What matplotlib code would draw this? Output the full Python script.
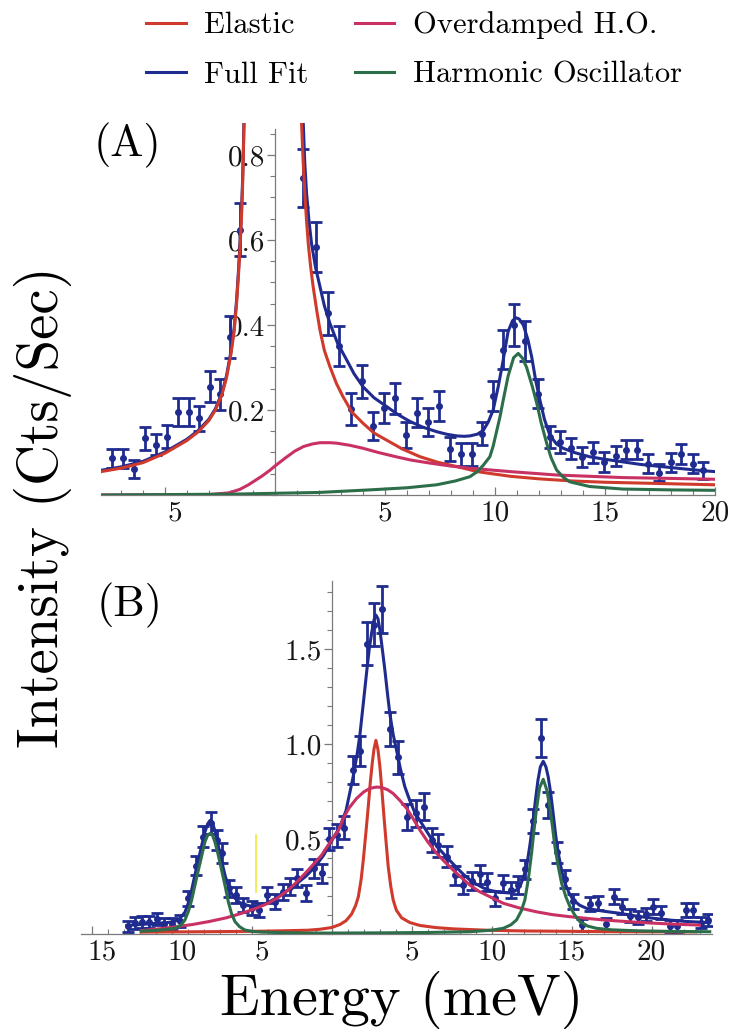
import matplotlib
matplotlib.use('Agg')
import matplotlib.pyplot as plt
import matplotlib.transforms as mtransforms
from matplotlib.lines import Line2D
from matplotlib.ticker import MultipleLocator

plt.rcParams['font.family'] = ['cmr10', 'DejaVu Serif']
plt.rcParams['mathtext.fontset'] = 'cm'
plt.rcParams['axes.formatter.use_mathtext'] = True

# colours
c_el = '#cf3a2c'
c_od = '#c93163'
c_fit = '#1f2b8f'
c_ho = '#2d6e4a'
c_axis = '#7a7a7a'

# ---------------- panel A data ----------------
a_pts_e = [-7.39, -6.89, -6.39, -5.90, -5.42, -4.92, -4.42, -3.91, -3.44, -2.95, -2.50, -2.05, -1.59,
           1.29, 1.89, 2.42, 2.91, 3.44, 3.94, 4.47, 4.95, 5.45, 5.95, 6.44, 6.97, 7.45, 7.95, 8.45,
           8.94, 9.42, 9.92, 10.38, 10.86, 11.36, 11.94, 12.50, 12.95, 13.45, 13.94, 14.47, 14.97,
           15.49, 15.94, 16.44, 16.97, 17.47, 17.98, 18.45, 18.98, 19.47]
a_pts_i = [0.086, 0.086, 0.061, 0.133, 0.118, 0.137, 0.196, 0.196, 0.180, 0.255, 0.237, 0.372, 0.624,
           0.745, 0.584, 0.427, 0.350, 0.202, 0.267, 0.162, 0.205, 0.227, 0.141, 0.194, 0.171, 0.209,
           0.108, 0.096, 0.096, 0.144, 0.232, 0.342, 0.400, 0.362, 0.238, 0.137, 0.125, 0.110, 0.090,
           0.100, 0.078, 0.092, 0.107, 0.107, 0.074, 0.052, 0.077, 0.096, 0.074, 0.058]
a_pts_err = [0.022, 0.022, 0.021, 0.026, 0.025, 0.027, 0.033, 0.033, 0.030, 0.037, 0.036, 0.050, 0.062,
             0.068, 0.059, 0.051, 0.047, 0.037, 0.039, 0.033, 0.035, 0.037, 0.031, 0.034, 0.033, 0.036,
             0.029, 0.027, 0.027, 0.027, 0.035, 0.046, 0.049, 0.047, 0.034, 0.026, 0.026, 0.025, 0.024,
             0.024, 0.023, 0.024, 0.022, 0.022, 0.022, 0.020, 0.022, 0.024, 0.022, 0.020]

a_el_e = [-7.9, -7.0, -6.0, -5.0, -4.0, -3.5, -3.0, -2.7, -2.4, -2.2, -2.0, -1.85, -1.74, -1.65, -1.58,
          -1.52, -1.47, -1.43, -1.40, 0.0, 1.21, 1.28, 1.36, 1.44, 1.52, 1.63, 1.74, 1.90, 2.05, 2.25,
          2.50, 2.80, 3.10, 3.50, 4.00, 4.50, 5.08, 5.80, 6.60, 7.40, 8.26, 9.20, 10.0, 10.7, 12.0, 13.5,
          15.0, 17.5, 20.0]
a_el_i = [0.055, 0.063, 0.076, 0.098, 0.128, 0.148, 0.175, 0.200, 0.237, 0.275, 0.330, 0.385, 0.450,
          0.520, 0.585, 0.650, 0.720, 0.800, 0.880, 4.0, 0.880, 0.790, 0.710, 0.645, 0.590, 0.535, 0.490,
          0.435, 0.388, 0.340, 0.302, 0.262, 0.231, 0.195, 0.169, 0.146, 0.129, 0.108, 0.090, 0.077,
          0.067, 0.055, 0.049, 0.044, 0.038, 0.033, 0.030, 0.027, 0.024]

a_fit_e = [-7.9, -7.0, -6.0, -5.0, -4.0, -3.5, -3.0, -2.7, -2.4, -2.2, -2.0, -1.85, -1.74, -1.65, -1.58,
           -1.52, -1.47, -1.43, -1.40, 0.0, 1.29, 1.36, 1.44, 1.55, 1.67, 1.85, 2.05, 2.25, 2.50, 2.85,
           3.26, 3.60, 4.00, 4.50, 5.08, 5.60, 6.14, 6.70, 7.35, 7.80, 8.26, 8.60, 8.86, 9.20, 9.47, 9.70,
           9.92, 10.15, 10.35, 10.60, 10.80, 10.95, 11.10, 11.29, 11.50, 11.67, 11.85, 12.05, 12.25,
           12.50, 12.80, 13.10, 13.60, 14.30, 15.00, 15.80, 16.60, 17.35, 18.10, 18.86, 19.50, 20.0]
a_fit_i = [0.058, 0.066, 0.079, 0.101, 0.131, 0.151, 0.178, 0.203, 0.241, 0.280, 0.336, 0.392, 0.458,
           0.530, 0.597, 0.663, 0.735, 0.815, 0.890, 4.0, 0.875, 0.780, 0.710, 0.645, 0.590, 0.535, 0.490,
           0.445, 0.404, 0.357, 0.318, 0.285, 0.255, 0.229, 0.208, 0.189, 0.173, 0.160, 0.149, 0.143,
           0.139, 0.138, 0.139, 0.143, 0.152, 0.172, 0.200, 0.255, 0.310, 0.385, 0.410, 0.417, 0.414,
           0.400, 0.365, 0.325, 0.270, 0.222, 0.178, 0.140, 0.120, 0.110, 0.100, 0.090, 0.084, 0.078,
           0.072, 0.068, 0.064, 0.060, 0.057, 0.055]

a_od_e = [-7.9, -3.0, -2.1, -1.6, -1.2, -0.6, -0.23, 0.0, 0.5, 0.9, 1.3, 1.7, 2.05, 2.5, 2.8, 3.4, 4.0,
          4.7, 5.5, 6.2, 7.05, 8.0, 8.86, 9.77, 10.7, 12.8, 15.8, 18.0, 20.0]
a_od_i = [0.0, 0.001, 0.005, 0.013, 0.024, 0.044, 0.058, 0.068, 0.088, 0.103, 0.114, 0.120, 0.123, 0.123,
          0.122, 0.117, 0.110, 0.100, 0.090, 0.082, 0.075, 0.068, 0.063, 0.059, 0.055, 0.047, 0.041,
          0.039, 0.037]

a_ho_e = [-7.9, -2.0, 0.0, 2.0, 4.3, 6.0, 7.35, 8.2, 8.86, 9.2, 9.47, 9.77, 9.92, 10.23, 10.38, 10.6,
          10.85, 11.06, 11.25, 11.44, 11.7, 11.9, 12.1, 12.35, 12.55, 12.8, 13.1, 13.4, 14.3, 15.8, 18.0,
          20.0]
a_ho_i = [0.0, 0.002, 0.004, 0.006, 0.012, 0.017, 0.024, 0.033, 0.043, 0.055, 0.070, 0.090, 0.115, 0.184,
          0.224, 0.280, 0.323, 0.333, 0.322, 0.300, 0.255, 0.216, 0.170, 0.122, 0.088, 0.059, 0.042,
          0.031, 0.020, 0.014, 0.012, 0.011]

# ---------------- panel B data ----------------
b_pts_e = [-12.75, -12.30, -11.85, -11.40, -10.90, -10.45, -9.97, -9.50, -8.96, -8.50, -8.02, -7.56,
           -7.19, -6.84, -6.40, -5.98, -5.52, -5.00, -4.52, -4.02, -3.54, -3.06, -2.60, -2.15, -1.60,
           -1.10, -0.63, -0.15, 0.31, 0.80, 1.31, 1.79, 2.19, 2.64, 3.12, 3.64, 4.16, 4.73, 5.25, 5.77,
           6.25, 6.66, 7.19, 7.70, 8.23, 8.75, 9.27, 9.69, 10.20, 10.69, 11.19, 11.67, 12.10, 12.56,
           13.12, 13.52, 14.12, 14.58, 15.12, 15.64, 16.16, 16.66, 17.14, 17.67, 18.15, 18.66, 19.13,
           19.63, 20.12, 20.62, 21.17, 21.60, 22.13, 22.60, 23.10, 23.55]
b_pts_i = [0.040, 0.060, 0.065, 0.065, 0.078, 0.055, 0.053, 0.067, 0.188, 0.360, 0.512, 0.586, 0.495,
           0.425, 0.240, 0.205, 0.153, 0.135, 0.126, 0.205, 0.170, 0.223, 0.249, 0.293, 0.214, 0.346,
           0.320, 0.500, 0.520, 0.560, 0.865, 0.965, 1.530, 1.630, 1.710, 1.080, 0.930, 0.617, 0.635,
           0.670, 0.495, 0.468, 0.407, 0.310, 0.258, 0.278, 0.315, 0.275, 0.188, 0.267, 0.232, 0.258,
           0.340, 0.595, 1.030, 0.680, 0.430, 0.290, 0.172, 0.047, 0.158, 0.162, 0.052, 0.196, 0.144,
           0.096, 0.087, 0.105, 0.144, 0.113, 0.043, 0.043, 0.126, 0.126, 0.060, 0.075]
b_pts_err = [0.030, 0.032, 0.032, 0.032, 0.033, 0.031, 0.031, 0.032, 0.040, 0.050, 0.056, 0.058, 0.055,
             0.052, 0.044, 0.042, 0.038, 0.037, 0.037, 0.042, 0.040, 0.043, 0.045, 0.047, 0.042, 0.050,
             0.050, 0.058, 0.060, 0.062, 0.075, 0.080, 0.115, 0.115, 0.125, 0.090, 0.085, 0.068, 0.070,
             0.072, 0.062, 0.060, 0.056, 0.050, 0.046, 0.048, 0.050, 0.048, 0.040, 0.046, 0.044, 0.046,
             0.050, 0.062, 0.100, 0.068, 0.056, 0.048, 0.040, 0.030, 0.038, 0.038, 0.030, 0.040, 0.038,
             0.034, 0.033, 0.034, 0.038, 0.035, 0.030, 0.030, 0.036, 0.036, 0.030, 0.032]

b_fit_e = [-12.8, -12.0, -11.0, -10.3, -9.8, -9.5, -9.17, -8.95, -8.75, -8.55, -8.33, -8.1, -7.92, -7.75,
           -7.6, -7.45, -7.3, -7.1, -6.88, -6.65, -6.46, -6.25, -6.04, -5.75, -5.42, -5.05, -4.69, -4.2,
           -3.54, -3.0, -2.29, -1.6, -1.04, -0.5, 0.0, 0.52, 0.9, 1.35, 1.6, 1.77, 2.0, 2.19, 2.35, 2.5,
           2.65, 2.77, 2.9, 3.02, 3.17, 3.33, 3.5, 3.64, 3.85, 4.06, 4.3, 4.58, 4.9, 5.2, 5.65, 6.14, 6.6,
           7.19, 7.7, 8.23, 8.64, 9.0, 9.5, 9.9, 10.5, 11.14, 11.5, 11.77, 12.0, 12.19, 12.4, 12.6,
           12.75, 12.9, 13.05, 13.23, 13.4, 13.54, 13.7, 13.85, 14.0, 14.17, 14.38, 14.58, 14.85, 15.1,
           15.5, 15.94, 17.0, 18.02, 19.0, 20.1, 21.2, 22.19, 23.64]
b_fit_i = [0.045, 0.050, 0.056, 0.060, 0.066, 0.080, 0.115, 0.165, 0.232, 0.310, 0.390, 0.475, 0.538,
           0.580, 0.598, 0.585, 0.545, 0.470, 0.385, 0.305, 0.252, 0.212, 0.188, 0.166, 0.154, 0.147,
           0.146, 0.156, 0.186, 0.215, 0.258, 0.305, 0.354, 0.415, 0.490, 0.565, 0.650, 0.830, 0.950,
           1.050, 1.230, 1.380, 1.500, 1.585, 1.655, 1.680, 1.660, 1.600, 1.500, 1.390, 1.260, 1.160,
           1.050, 0.968, 0.870, 0.775, 0.700, 0.640, 0.580, 0.515, 0.460, 0.405, 0.360, 0.315, 0.285,
           0.265, 0.242, 0.230, 0.220, 0.216, 0.228, 0.250, 0.300, 0.355, 0.470, 0.600, 0.710, 0.810,
           0.880, 0.910, 0.880, 0.828, 0.740, 0.635, 0.525, 0.425, 0.335, 0.270, 0.215, 0.180, 0.152,
           0.135, 0.120, 0.109, 0.095, 0.083, 0.073, 0.066, 0.060]

b_ho_e = [-11.9, -10.8, -9.8, -9.4, -9.17, -8.95, -8.75, -8.55, -8.33, -8.1, -7.92, -7.75, -7.6, -7.45,
          -7.3, -7.1, -6.88, -6.65, -6.46, -6.25, -6.04, -5.75, -5.42, -4.9, -4.4, -3.0, -1.5, 0.0, 3.0,
          6.0, 8.64, 10.0, 10.73, 11.2, 11.56, 11.85, 12.08, 12.3, 12.5, 12.65, 12.8, 13.0, 13.23, 13.45,
          13.64, 13.8, 13.96, 14.17, 14.38, 14.65, 14.9, 15.2, 15.52, 16.0, 16.56, 17.5, 19.06, 21.0,
          23.64]
b_ho_i = [0.015, 0.020, 0.030, 0.048, 0.074, 0.120, 0.179, 0.255, 0.337, 0.420, 0.486, 0.520, 0.530,
          0.520, 0.486, 0.420, 0.337, 0.250, 0.170, 0.105, 0.065, 0.038, 0.021, 0.013, 0.010, 0.007,
          0.005, 0.005, 0.006, 0.008, 0.012, 0.020, 0.030, 0.048, 0.074, 0.120, 0.179, 0.290, 0.425,
          0.545, 0.653, 0.770, 0.815, 0.760, 0.670, 0.570, 0.460, 0.355, 0.267, 0.195, 0.144, 0.100,
          0.065, 0.042, 0.030, 0.022, 0.017, 0.014, 0.012]

b_el_e = [-11.9, -8.0, -5.0, -3.0, -1.46, -0.73, 0.0, 0.52, 0.9, 1.25, 1.5, 1.67, 1.85, 1.98, 2.15, 2.29,
          2.42, 2.54, 2.65, 2.77, 2.9, 3.02, 3.15, 3.29, 3.42, 3.54, 3.7, 3.85, 4.05, 4.38, 4.9, 5.52,
          6.5, 7.6, 9.69, 12.0, 15.0, 18.0, 22.8]
b_el_i = [0.010, 0.012, 0.014, 0.017, 0.020, 0.025, 0.034, 0.050, 0.070, 0.105, 0.150, 0.196, 0.290,
          0.390, 0.540, 0.670, 0.800, 0.900, 0.975, 1.020, 0.970, 0.880, 0.750, 0.600, 0.470, 0.354,
          0.250, 0.179, 0.125, 0.085, 0.060, 0.045, 0.034, 0.027, 0.020, 0.016, 0.014, 0.012, 0.011]

b_od_e = [-11.9, -10.8, -9.8, -8.7, -7.7, -6.6, -5.63, -4.8, -3.96, -3.3, -2.71, -2.1, -1.46, -1.0,
          -0.63, 0.0, 0.42, 0.73, 1.1, 1.56, 2.0, 2.39, 2.8, 3.12, 3.5, 3.85, 4.25, 4.69, 5.1, 5.52, 6.0,
          6.56, 7.1, 7.6, 8.1, 8.64, 9.2, 9.9, 10.73, 11.7, 12.8, 13.8, 14.9, 16.0, 16.98, 18.0, 19.06,
          20.1, 21.14, 22.0, 23.0]
b_od_i = [0.018, 0.027, 0.037, 0.050, 0.065, 0.085, 0.109, 0.133, 0.162, 0.195, 0.232, 0.280, 0.337,
          0.380, 0.415, 0.495, 0.545, 0.609, 0.665, 0.714, 0.748, 0.767, 0.774, 0.772, 0.760, 0.740,
          0.705, 0.662, 0.607, 0.547, 0.487, 0.425, 0.378, 0.337, 0.298, 0.258, 0.225, 0.196, 0.162,
          0.138, 0.117, 0.102, 0.091, 0.082, 0.074, 0.068, 0.062, 0.057, 0.053, 0.050, 0.047]

# scan artefact (yellow streak) in panel B
streak_e = -4.7
streak_i = [0.22, 0.52]

# ---------------- figure ----------------
fig = plt.figure(figsize=(7.3, 10.31), dpi=100)
W, H = 730.0, 1031.0
axA = fig.add_axes([101 / W, 1 - 495 / H, 614 / W, (495 - 123) / H])
axB = fig.add_axes([80.5 / W, 1 - 934 / H, 631 / W, (934 - 579) / H])


def style_axes(ax, xlim, ylim, ybound, xmajor, xlabels, ymajor, ylabels, yminor):
    ax.set_xlim(*xlim)
    ax.set_ylim(*ylim)
    ax.patch.set_visible(False)
    for s in ['top', 'right']:
        ax.spines[s].set_visible(False)
    ax.spines['left'].set_position(('data', 0))
    ax.spines['bottom'].set_position(('data', 0))
    ax.spines['left'].set_bounds(0, ybound)
    ax.spines['bottom'].set_bounds(*xlim)
    for s in ['left', 'bottom']:
        ax.spines[s].set_color(c_axis)
        ax.spines[s].set_linewidth(0.9)
    ax.set_xticks(xmajor, xlabels)
    ax.set_yticks(ymajor, ylabels)
    ax.xaxis.set_minor_locator(MultipleLocator(1))
    ax.yaxis.set_minor_locator(MultipleLocator(yminor))
    ax.tick_params(axis='both', which='both', colors=c_axis, labelcolor='#151515', labelsize=21)
    ax.tick_params(axis='x', which='both', direction='in', pad=4)
    ax.tick_params(axis='x', which='major', length=6, width=0.9)
    ax.tick_params(axis='x', which='minor', length=3.5, width=0.8)
    ax.tick_params(axis='y', which='both', direction='out', pad=1)
    ax.tick_params(axis='y', which='major', length=6, width=0.9)
    ax.tick_params(axis='y', which='minor', length=3.5, width=0.8)
    # negative tick labels lost their minus sign in the original; keep the offset
    shift = mtransforms.ScaledTranslation(10 / 100, 0, fig.dpi_scale_trans)
    for t, loc in zip(ax.xaxis.get_major_ticks(), xmajor):
        if loc < 0:
            t.label1.set_transform(t.label1.get_transform() + shift)


style_axes(axA, (-7.9, 20.0), (0, 0.875), 0.86,
           [-5, 5, 10, 15, 20], ['5', '5', '10', '15', '20'],
           [0.2, 0.4, 0.6, 0.8], ['0.2', '0.4', '0.6', '0.8'], 0.05)
style_axes(axB, (-15.7, 23.75), (0, 1.87), 1.86,
           [-15, -10, -5, 5, 10, 15, 20], ['15', '10', '5', '5', '10', '15', '20'],
           [0.5, 1.0, 1.5], ['0.5', '1.0', '1.5'], 0.1)

lw = 2.2
for ax, fe, fi, ee, ei, oe, oi, he, hi, pe, pi, perr in [
        (axA, a_fit_e, a_fit_i, a_el_e, a_el_i, a_od_e, a_od_i, a_ho_e, a_ho_i, a_pts_e, a_pts_i, a_pts_err),
        (axB, b_fit_e, b_fit_i, b_el_e, b_el_i, b_od_e, b_od_i, b_ho_e, b_ho_i, b_pts_e, b_pts_i, b_pts_err)]:
    ax.errorbar(pe, pi, yerr=perr, fmt='o', ms=4, color=c_fit, ecolor=c_fit,
                elinewidth=2.0, capsize=4.2, capthick=2.0, zorder=3)
    ax.plot(fe, fi, color=c_fit, lw=lw, zorder=4)
    ax.plot(ee, ei, color=c_el, lw=lw, zorder=5)
    ax.plot(oe, oi, color=c_od, lw=lw, zorder=5)
    ax.plot(he, hi, color=c_ho, lw=lw, zorder=5)

axB.plot([streak_e, streak_e], streak_i, color='#f0ea3c', lw=1.2, zorder=1)

# legend
handles = [Line2D([], [], color=c_el, lw=lw), Line2D([], [], color=c_fit, lw=lw),
           Line2D([], [], color=c_od, lw=lw), Line2D([], [], color=c_ho, lw=lw)]
labels = ['Elastic', 'Full Fit', 'Overdamped H.O.', 'Harmonic Oscillator']
fig.legend(handles, labels, ncol=2, loc='upper center', bbox_to_anchor=(414 / W, 1 + 16 / H),
           frameon=False, fontsize=22, handlelength=1.3, handletextpad=0.6,
           columnspacing=1.5, labelspacing=0.72)

fig.text(127 / W, 1 - 145 / H, '(A)', ha='center', va='center', fontsize=32)
fig.text(130 / W, 1 - 605 / H, '(B)', ha='center', va='center', fontsize=32)
fig.text(43 / W, 1 - 507 / H, 'Intensity (Cts/Sec)', rotation=90, ha='center', va='center', fontsize=41)
fig.text(402 / W, 1 - 1000 / H, 'Energy (meV)', ha='center', va='center', fontsize=42)

fig.savefig('out.png', dpi=100)
